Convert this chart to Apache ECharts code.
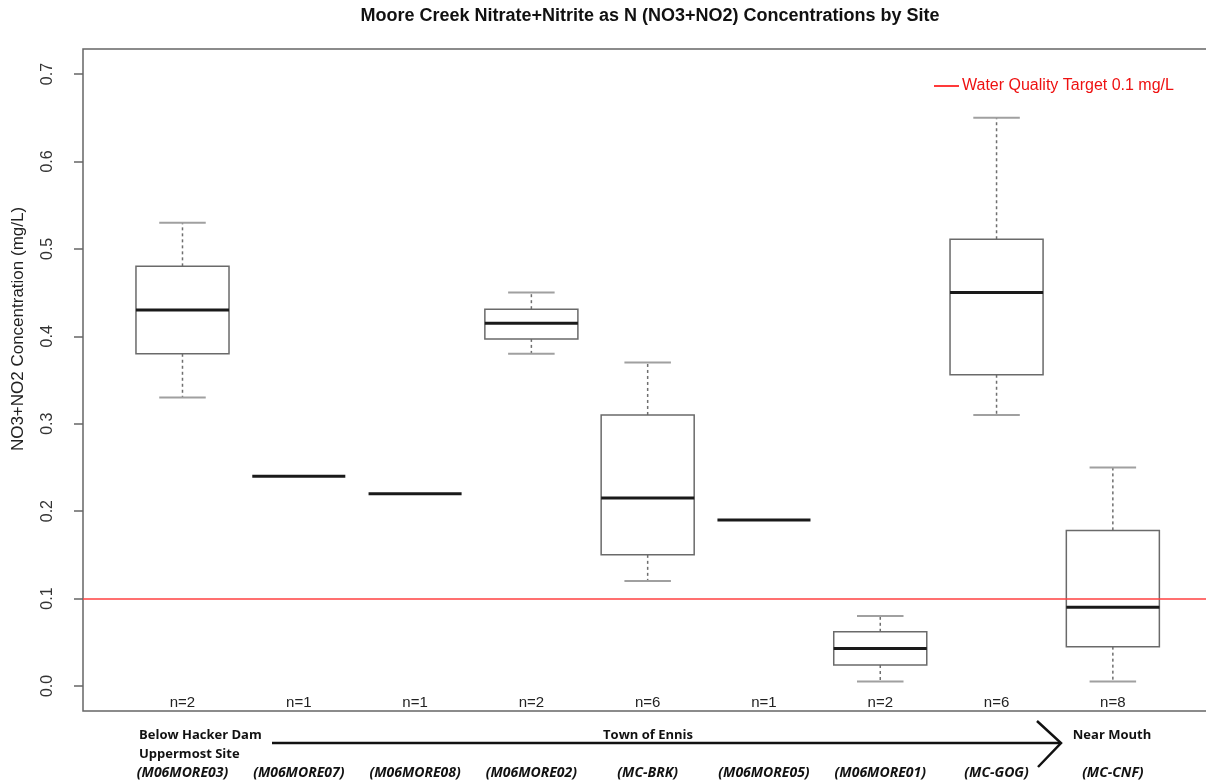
<!DOCTYPE html>
<html>
<head>
<meta charset="utf-8">
<script src="https://cdn.jsdelivr.net/npm/echarts@6/dist/echarts.min.js"></script>
<style>html,body{margin:0;padding:0;background:#fff;overflow:hidden}#c{width:1216px;height:784px}</style>
</head>
<body>
<div id="c"></div>
<script>
// ---- data ----
const sites = ['(M06MORE03)','(M06MORE07)','(M06MORE08)','(M06MORE02)','(MC-BRK)','(M06MORE05)','(M06MORE01)','(MC-GOG)','(MC-CNF)'];
const counts = [2, 1, 1, 2, 6, 1, 2, 6, 8];
const whiskerLow  = [0.33, 0.24, 0.22, 0.38,  0.12,  0.19, 0.005, 0.31,  0.005];
const q1          = [0.38, 0.24, 0.22, 0.397, 0.15,  0.19, 0.024, 0.356, 0.045];
const median      = [0.43, 0.24, 0.22, 0.415, 0.215, 0.19, 0.043, 0.45,  0.09];
const q3          = [0.48, 0.24, 0.22, 0.431, 0.31,  0.19, 0.062, 0.511, 0.178];
const whiskerHigh = [0.53, 0.24, 0.22, 0.45,  0.37,  0.19, 0.08,  0.65,  0.25];
const yTicks = [0.0, 0.1, 0.2, 0.3, 0.4, 0.5, 0.6, 0.7];
const target = 0.1;
const targetName = 'Water Quality Target 0.1 mg/L';
const yLabel = 'NO3+NO2 Concentration (mg/L)';
const titleText = 'Moore Creek Nitrate+Nitrite as N (NO3+NO2) Concentrations by Site';
const reachLabels = ['Below Hacker Dam', 'Uppermost Site', 'Town of Ennis', 'Near Mouth'];

// ---- chart ----
const X_MIN = 0.1445, X_MAX = 9.887, Y_MIN = -0.0286, Y_MAX = 0.7286;
const HALF_BOX = 0.4, HALF_CAP = 0.2;

const boxData = sites.map((s, i) => [i + 1, whiskerLow[i], q1[i], median[i], q3[i], whiskerHigh[i], counts[i]]);

function renderBox(params, api) {
  const x = api.value(0);
  const lo = api.value(1), b1 = api.value(2), md = api.value(3), b3 = api.value(4), hi = api.value(5);
  const n = api.value(6);
  const c = (xx, yy) => api.coord([xx, yy]);
  const children = [];
  const whiskStyle = { stroke: '#6f6f6f', lineWidth: 1.5, lineDash: [3, 3] };
  const capStyle = { stroke: '#a0a0a0', lineWidth: 2 };
  if (hi > b3) {
    const p1 = c(x, b3), p2 = c(x, hi);
    children.push({ type: 'line', shape: { x1: p1[0], y1: p1[1], x2: p2[0], y2: p2[1] }, style: whiskStyle });
    const a = c(x - HALF_CAP, hi), bb = c(x + HALF_CAP, hi);
    children.push({ type: 'line', shape: { x1: a[0], y1: a[1], x2: bb[0], y2: bb[1] }, style: capStyle });
  }
  if (lo < b1) {
    const p1 = c(x, b1), p2 = c(x, lo);
    children.push({ type: 'line', shape: { x1: p1[0], y1: p1[1], x2: p2[0], y2: p2[1] }, style: whiskStyle });
    const a = c(x - HALF_CAP, lo), bb = c(x + HALF_CAP, lo);
    children.push({ type: 'line', shape: { x1: a[0], y1: a[1], x2: bb[0], y2: bb[1] }, style: capStyle });
  }
  if (b3 > b1) {
    const tl = c(x - HALF_BOX, b3), br = c(x + HALF_BOX, b1);
    children.push({ type: 'rect', shape: { x: tl[0], y: tl[1], width: br[0] - tl[0], height: br[1] - tl[1] },
      style: { fill: '#fff', stroke: '#6a6a6a', lineWidth: 1.5 } });
  }
  const m1 = c(x - HALF_BOX, md), m2 = c(x + HALF_BOX, md);
  children.push({ type: 'line', shape: { x1: m1[0], y1: m1[1], x2: m2[0], y2: m2[1] }, style: { stroke: '#1a1a1a', lineWidth: 3 } });
  const bp = c(x, Y_MIN);
  children.push({ type: 'text', x: bp[0], y: bp[1] - 1,
    style: { text: 'n=' + n, fill: '#222', font: '15px "Liberation Sans", Arial, sans-serif', align: 'center', verticalAlign: 'bottom' } });
  return { type: 'group', children };
}

const chart = echarts.init(document.getElementById('c'));
const bold = 'bold 13px "Open Sans", sans-serif';
chart.setOption({
  animation: false,
  backgroundColor: '#fff',
  grid: { left: 83, right: 0, top: 49, bottom: 73, show: true, borderColor: '#666', borderWidth: 1.5, containLabel: false },
  legend: {
    data: [{ name: targetName, icon: 'rect' }],
    left: 929, top: 73, itemWidth: 25, itemHeight: 2, itemGap: 4,
    textStyle: { color: '#ee1111', fontSize: 16, fontFamily: '"Liberation Sans", Arial, sans-serif', padding: [0, 0, 0, -2] }
  },
  xAxis: {
    type: 'value', min: X_MIN, max: X_MAX,
    splitLine: { show: false }, axisLine: { show: false }, axisTick: { show: false },
    axisLabel: {
      customValues: sites.map((s, i) => i + 1),
      formatter: v => sites[Math.round(v) - 1] || '',
      margin: 55, fontStyle: 'italic', fontWeight: 'bold', fontSize: 14, color: '#111',
      fontFamily: '"Open Sans", sans-serif'
    }
  },
  yAxis: {
    type: 'value', min: Y_MIN, max: Y_MAX,
    splitLine: { show: false }, axisLine: { show: false },
    axisTick: { show: true, customValues: yTicks, length: 9, lineStyle: { color: '#666', width: 1.5 } },
    axisLabel: {
      customValues: yTicks, formatter: v => v.toFixed(1), rotate: 90, margin: 27,
      fontSize: 16, color: '#333', fontFamily: '"Liberation Sans", Arial, sans-serif'
    }
  },
  series: [
    {
      type: 'custom', name: 'boxes', renderItem: renderBox, data: boxData,
      encode: { x: 0, y: [1, 2, 3, 4, 5] }, silent: true, clip: false
    },
    {
      type: 'line', name: targetName, data: [], color: '#ff3a3a',
      lineStyle: { color: '#ff3a3a', width: 1.5 },
      markLine: {
        silent: true, symbol: 'none', label: { show: false },
        lineStyle: { color: '#ff4040', width: 1.6, type: 'solid' },
        data: [{ yAxis: target }]
      }
    }
  ],
  graphic: [
    { type: 'text', x: 650, y: 16, style: { text: titleText, font: 'bold 18px "Liberation Sans", Arial, sans-serif', fill: '#111', align: 'center', verticalAlign: 'middle' } },
    { type: 'text', x: 18, y: 329, rotation: Math.PI / 2, style: { text: yLabel, font: '17px "Liberation Sans", Arial, sans-serif', fill: '#222', align: 'center', verticalAlign: 'middle' } },
    { type: 'text', x: 139, y: 735, style: { text: reachLabels[0], font: bold, fill: '#111', verticalAlign: 'middle' } },
    { type: 'text', x: 139, y: 754, style: { text: reachLabels[1], font: bold, fill: '#111', verticalAlign: 'middle' } },
    { type: 'text', x: 648, y: 735, style: { text: reachLabels[2], font: bold, fill: '#111', align: 'center', verticalAlign: 'middle' } },
    { type: 'text', x: 1112, y: 735, style: { text: reachLabels[3], font: bold, fill: '#111', align: 'center', verticalAlign: 'middle' } },
    { type: 'line', shape: { x1: 272, y1: 743, x2: 1060, y2: 743 }, style: { stroke: '#111', lineWidth: 2.5 } },
    { type: 'polyline', shape: { points: [[1037, 721], [1061, 743], [1038, 767]] }, style: { stroke: '#111', lineWidth: 2.5, fill: null } }
  ]
});
</script>
</body>
</html>
